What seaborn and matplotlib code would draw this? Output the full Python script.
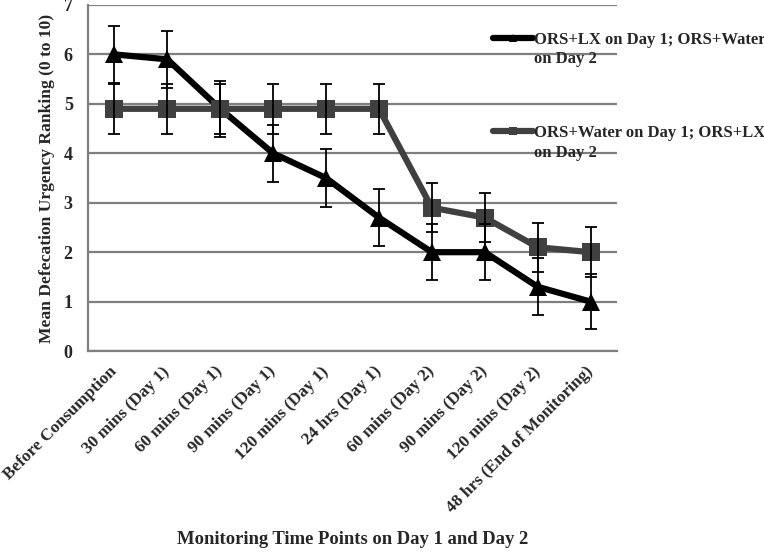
import numpy as np
import pandas as pd
import matplotlib
matplotlib.use("Agg")
import matplotlib.pyplot as plt
import seaborn as sns
from matplotlib.lines import Line2D

# Chart data
time_points = [
    "Before Consumption", "30 mins (Day 1)", "60 mins (Day 1)", "90 mins (Day 1)",
    "120 mins (Day 1)", "24 hrs (Day 1)", "60 mins (Day 2)", "90 mins (Day 2)",
    "120 mins (Day 2)", "48 hrs (End of Monitoring)",
]
series_names = [
    "ORS+LX on Day 1; ORS+Water\non Day 2",
    "ORS+Water on Day 1; ORS+LX\non Day 2",
]
lx_first = [6.0, 5.9, 4.9, 4.0, 3.5, 2.7, 2.0, 2.0, 1.3, 1.0]
lx_first_err = [0.58, 0.58, 0.57, 0.58, 0.58, 0.58, 0.57, 0.57, 0.58, 0.56]
water_first = [4.9, 4.9, 4.9, 4.9, 4.9, 4.9, 2.9, 2.7, 2.1, 2.0]
water_first_err = [0.5, 0.5, 0.5, 0.5, 0.5, 0.5, 0.5, 0.5, 0.5, 0.5]

colors = ["#000000", "#404040"]
markers = ["^", "s"]

df = pd.DataFrame({
    "x": list(range(len(time_points))) * 2,
    "value": lx_first + water_first,
    "err": lx_first_err + water_first_err,
    "series": [series_names[0]] * len(time_points) + [series_names[1]] * len(time_points),
})

sns.set_style("white")
plt.rcParams["font.family"] = ["Liberation Serif", "DejaVu Serif"]
plt.rcParams["font.weight"] = "bold"

fig = plt.figure(figsize=(7.64, 5.52), dpi=100)
ax = fig.add_axes([0.1152, 0.364, 0.6924, 0.627])

# gridlines
ax.set_ylim(0, 7)
ax.set_xlim(-0.5, len(time_points) - 0.5)
ax.set_yticks(range(0, 8))
ax.yaxis.grid(True, color="#7f7f7f", lw=1.6)
ax.set_axisbelow(True)

# error bars first so the lines sit on top of them
for name in series_names:
    sub = df[df["series"] == name]
    ax.errorbar(sub["x"], sub["value"], yerr=sub["err"], fmt="none",
                ecolor="black", elinewidth=1.3, capsize=4.5, capthick=1.3, zorder=4)

sns.lineplot(data=df, x="x", y="value", hue="series", style="series",
             palette=dict(zip(series_names, colors)),
             markers=dict(zip(series_names, markers)), dashes=False,
             lw=4.5, markersize=13, markeredgewidth=0, legend=False, ax=ax, zorder=3)

# axes styling
for s in ["top", "right"]:
    ax.spines[s].set_visible(False)
for s in ["left", "bottom"]:
    ax.spines[s].set_color("#7f7f7f")
    ax.spines[s].set_linewidth(1.6)

ax.set_xticks(range(len(time_points)))
ax.set_xticklabels(time_points, rotation=45, ha="right", va="center",
                   rotation_mode="anchor", fontsize=12.4, fontweight="bold")
ax.set_xticks(np.arange(-0.5, len(time_points), 1), minor=True)
ax.tick_params(axis="x", which="major", length=0, pad=13)
ax.tick_params(axis="x", which="minor", length=6, width=1.6, color="#7f7f7f", direction="out")
ax.tick_params(axis="y", which="major", length=6, width=1.6, color="#7f7f7f",
               direction="out", labelsize=13, pad=5)
for lab in ax.get_yticklabels():
    lab.set_fontweight("bold")

ax.set_xlabel("")
ax.set_ylabel("Mean Defecation Urgency Ranking (0 to 10)", fontsize=12.6,
              fontweight="bold")
ax.yaxis.set_label_coords(-0.062, 0.5)
fig.text(0.461, 1 - 540 / 552, "Monitoring Time Points on Day 1 and Day 2",
         ha="center", va="center", fontsize=13.4, fontweight="bold")

# legend, handle drawn level with the first text line
handles = [Line2D([0], [0], color=c, lw=4.5, marker=m, markersize=6, markeredgewidth=0)
           for c, m in zip(colors, markers)]
leg = fig.legend(handles, series_names, loc="upper left", bbox_to_anchor=(0.645, 0.963),
                 frameon=False, handlelength=2.4, handletextpad=0.05,
                 handleheight=5.4, labelspacing=1.85, borderpad=0, borderaxespad=0,
                 prop={"weight": "bold", "size": 12})
for t in leg.get_texts():
    t.set_linespacing(1.3)

fig.savefig("out.png", dpi=100)
